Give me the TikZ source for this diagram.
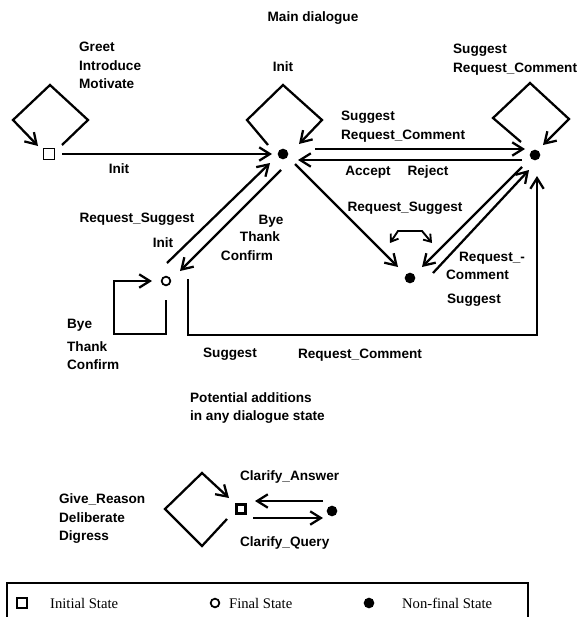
\documentclass[tikz,border=0pt]{standalone}
\usepackage{fontspec}
\setmainfont{Liberation Serif}
\newfontfamily\labsans{Liberation Sans}
\usetikzlibrary{arrows.meta,calc}
\begin{document}
\begin{tikzpicture}[x=0.75pt,y=-0.75pt, line width=1.7pt, line join=miter,
  lbl/.style={font=\labsans\bfseries\fontsize{10.2}{12}\selectfont, inner sep=0pt, text height=7.2pt, text depth=0pt},
  lw/.style={lbl, anchor=west},
  leg/.style={font=\fontsize{11}{13}\selectfont, inner sep=0pt, text height=7.5pt, text depth=0pt, anchor=west},
  dot/.style={circle, fill, inner sep=0pt, minimum size=8pt},
  initst/.style={draw, line width=1.1pt, inner sep=0pt, minimum size=8pt},
  finst/.style={circle, draw, line width=1.3pt, inner sep=0pt, minimum size=6.5pt},
  arr/.style={-{Straight Barb[length=8pt,width=10pt]}},
  sarr/.style={line width=1.4pt, {Straight Barb[length=5pt,width=7pt]}-{Straight Barb[length=5pt,width=7pt]}},
  ]
\clip (0,0) rectangle (580,617);
\useasboundingbox (0,0) rectangle (580,617);

% ---- states ----
\node[initst] (A) at (49,154) {};
\node[dot] (B) at (283,154) {};
\node[dot] (C) at (535,155) {};
\node[finst] (D) at (166,281) {};
\node[dot] (E) at (410,278) {};
\node[initst, line width=2pt, minimum size=7pt] (F) at (241,509) {};
\node[dot] (G) at (332,511) {};

% ---- titles ----
\node[lbl] (t1) at (313,17) {Main dialogue};
\node[lw] (t2a) at (189,398) {Potential additions};
\node[lw] (t2b) at (189,416) {in any dialogue state};

% ---- loops ----
\draw[arr] ($(A)+(13,-9)$) -- ($(A)+(39,-34)$) -- ($(A)+(1,-69)$) -- ($(A)+(-36,-34)$) -- ($(A)+(-11,-8)$);
\draw[arr] ($(B)+(-15,-9)$) -- ($(B)+(-36,-34)$) -- ($(B)+(0,-69)$) -- ($(B)+(39,-34)$) -- ($(B)+(16,-10)$);
\draw[arr] ($(C)+(-14,-13)$) -- ($(C)+(-42,-37)$) -- ($(C)+(-5,-72)$) -- ($(C)+(34,-36)$) -- ($(C)+(8,-10)$);
\draw[arr] ($(D)+(0,19)$) -- ($(D)+(0,53)$) -- ($(D)+(-52,53)$) -- ($(D)+(-52,0)$) -- ($(D)+(-14,0)$);
\draw[sarr] ($(E)+(-20,-35)$) -- ($(E)+(-12,-47)$) -- ($(E)+(12,-47)$) -- ($(E)+(22,-35)$);
\draw[arr] ($(F)+(-14,10)$) -- ($(F)+(-39,37)$) -- ($(F)+(-76,0)$) -- ($(F)+(-39,-36)$) -- ($(F)+(-12,-11)$);

% ---- transitions ----
\draw[arr] ($(A)+(13,0)$) -- ($(B)+(-11,0)$);
\draw[arr] ($(B)+(32,-5)$) -- ($(C)+(-10,-6)$);
\draw[arr] ($(C)+(-13,5)$) -- ($(B)+(15,6)$);
\draw[arr] ($(D)+(1,-18)$) -- ($(B)+(-13,9)$);
\draw[arr] ($(B)+(-2,16)$) -- ($(D)+(14,-10)$);
\draw[arr] ($(D)+(22,-2)$) -- ($(D)+(22,54)$) -- ($(C)+(2,180)$) -- ($(C)+(2,21)$);
\draw[arr] ($(B)+(12,10)$) -- ($(E)+(-12,-11)$);
\draw[arr] ($(C)+(-13,12)$) -- ($(E)+(12,-11)$);
\draw[arr] ($(E)+(23,-5)$) -- ($(C)+(-6,15)$);
\draw[arr] ($(G)+(-9,-10)$) -- ($(F)+(14,-8)$);
\draw[arr] ($(F)+(12,9)$) -- ($(G)+(-9,7)$);

% ---- labels ----
\node[lw] (l1a) at (78,47) {Greet};
\node[lw] (l1b) at (78,66) {Introduce};
\node[lw] (l1c) at (78,84) {Motivate};
\node[lbl] (l2) at (283,67) {Init};
\node[lw] (l3a) at (452,49) {Suggest};
\node[lw] (l3b) at (452,68) {Request\_Comment};
\node[lw] (l4a) at (340,116) {Suggest};
\node[lw] (l4b) at (340,135) {Request\_Comment};
\node[lbl] (l5) at (119,169) {Init};
\node[lbl] (l6a) at (368,171) {Accept};
\node[lbl] (l6b) at (428,171) {Reject};
\node[lbl] (l7) at (405,207) {Request\_Suggest};
\node[lbl] (l8) at (137,218) {Request\_Suggest};
\node[lbl] (l9) at (163,243) {Init};
\node[lbl] (l10a) at (271,220) {Bye};
\node[lbl] (l10b) at (260,237) {Thank};
\node[lbl] (l10c) at (247,256) {Confirm};
\node[lw] (l11a) at (66,324) {Bye};
\node[lw] (l11b) at (66,347) {Thank};
\node[lw] (l11c) at (66,365) {Confirm};
\node[lbl] (l12) at (230,353) {Suggest};
\node[lbl] (l13) at (360,354) {Request\_Comment};
\node[lw] (l14a) at (458,257) {Request\_-};
\node[lw] (l14b) at (445,275) {Comment};
\node[lw] (l14c) at (446,299) {Suggest};
\node[lw] (l15) at (239,476) {Clarify\_Answer};
\node[lw] (l16) at (239,542) {Clarify\_Query};
\node[lw] (l17a) at (58,499) {Give\_Reason};
\node[lw] (l17b) at (58,518) {Deliberate};
\node[lw] (l17c) at (58,536) {Digress};

% ---- legend ----
\draw[line width=1.3pt] (7,583) rectangle (528,640);
\node[initst, line width=1.3pt, minimum size=8pt] (k1) at (22,603) {};
\node[leg] (k1t) at (49,603) {Initial State};
\node[finst] (k2) at (215,603) {};
\node[leg] (k2t) at (228,603) {Final State};
\node[dot] (k3) at (369,603) {};
\node[leg] (k3t) at (401,603) {Non-final State};
\end{tikzpicture}
\end{document}
